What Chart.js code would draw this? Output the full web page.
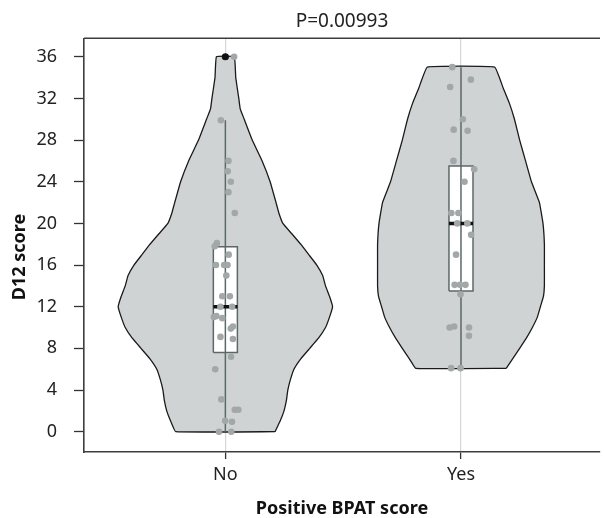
<!DOCTYPE html>
<html>
<head>
<meta charset="utf-8">
<script src="https://cdn.jsdelivr.net/npm/chart.js@4.4.1/dist/chart.umd.min.js"></script>
<style>
  html, body { margin: 0; padding: 0; background: #fff; }
  #wrap { width: 604px; height: 518px; }
</style>
</head>
<body>
<div id="wrap"><canvas id="chart"></canvas></div>
<script>
const categories = ['No', 'Yes'];
const yTicks = [0, 4, 8, 12, 16, 20, 24, 28, 32, 36];
const pLabel = 'P=0.00993';
const xTitle = 'Positive BPAT score';
const yTitle = 'D12 score';

// violin outlines: score level and half width (x units)
const noViolinY = [0, 1, 2, 3, 4, 5, 6, 7, 8, 9, 10, 11, 12, 13, 14, 15, 16, 17, 18, 19, 20, 21, 22, 24, 26, 28, 30, 31, 32, 34, 36];
const noViolinW = [0.211, 0.232, 0.249, 0.259, 0.265, 0.276, 0.291, 0.320, 0.358, 0.396, 0.425, 0.442, 0.455, 0.442, 0.425, 0.413, 0.388, 0.354, 0.320, 0.282, 0.244, 0.227, 0.215, 0.190, 0.156, 0.114, 0.080, 0.063, 0.057, 0.044, 0.038];
const yesViolinY = [6.08, 7, 8, 9, 10, 11, 12, 13, 14, 16, 18, 20, 22, 24, 26, 28, 30, 31.5, 33, 35];
const yesViolinW = [0.192, 0.219, 0.249, 0.278, 0.303, 0.324, 0.337, 0.350, 0.354, 0.354, 0.354, 0.348, 0.333, 0.299, 0.274, 0.249, 0.227, 0.206, 0.179, 0.143];

// box plots
const q1 = [7.6, 13.5];
const medians = [12, 20];
const q3 = [17.75, 25.5];
const whiskerLow = [0, 6.08];
const whiskerHigh = [29.9, 35];
const outliers = [[36], []];

// jittered observations
const noScores = [36, 29.9, 26, 25, 24, 23, 21, 18.1, 17.8, 17, 16, 16, 16, 15, 13, 13, 12, 12, 11, 11.1, 10.9, 9.9, 10.1, 9.1, 8.9, 7.2, 6, 3.1, 2.1, 2.1, 1.05, 0.96, 0, 0];
const noJitter = [0.037, -0.019, 0.013, 0.010, 0.023, 0.013, 0.040, -0.036, -0.045, 0.014, -0.040, -0.005, 0.009, 0.004, -0.013, 0.019, -0.021, 0.029, -0.049, -0.038, -0.013, 0.023, 0.032, -0.021, 0.032, 0.024, -0.043, -0.017, 0.040, 0.055, -0.001, 0.028, -0.027, 0.025];
const yesScores = [35, 33.8, 33.1, 30, 29, 28.9, 26, 25.2, 24, 21, 21, 20, 20, 18.9, 17, 14.1, 14.1, 14.1, 13.2, 10, 10.1, 10, 9.2, 6.1, 6.1];
const yesJitter = [-0.037, 0.042, -0.046, 0.008, -0.031, 0.028, -0.032, 0.056, 0.015, -0.041, -0.011, -0.016, 0.027, 0.043, -0.021, -0.027, -0.004, 0.019, -0.002, -0.048, -0.029, 0.034, 0.034, -0.042, -0.002];

const BOX_HW = 0.051;
const VIOLIN_FILL = '#d0d3d4';
const BOX_LINE = '#5c6868';
const DOT = '#a2a7a8';

Chart.defaults.font.family = '"Noto Sans", sans-serif';
Chart.defaults.color = '#222';

function violinPoints(center, ys, ws) {
  const right = ys.map((y, i) => ({ x: center + ws[i], y: y }));
  const left = ys.map((y, i) => ({ x: center - ws[i], y: y })).reverse();
  return right.concat(left, [right[0]]);
}

function boxPoints(i) {
  const c = i + 1;
  return [
    { x: c - BOX_HW, y: q1[i] }, { x: c + BOX_HW, y: q1[i] },
    { x: c + BOX_HW, y: q3[i] }, { x: c - BOX_HW, y: q3[i] },
    { x: c - BOX_HW, y: q1[i] }
  ];
}

const datasets = [];

[[noViolinY, noViolinW], [yesViolinY, yesViolinW]].forEach(([ys, ws], i) => {
  datasets.push({
    type: 'line',
    data: violinPoints(i + 1, ys, ws),
    borderColor: '#1a1a1a',
    borderWidth: 1.3,
    borderJoinStyle: 'round',
    backgroundColor: VIOLIN_FILL,
    fill: 'shape',
    tension: 0.08,
    pointRadius: 0,
    order: 6
  });
});

categories.forEach((c, i) => {
  datasets.push({
    type: 'line',
    data: boxPoints(i),
    borderColor: BOX_LINE,
    borderWidth: 1.5,
    backgroundColor: '#ffffff',
    fill: 'shape',
    tension: 0,
    pointRadius: 0,
    order: 5
  });
  datasets.push({
    type: 'line',
    data: [{ x: i + 1, y: whiskerLow[i] }, { x: i + 1, y: whiskerHigh[i] }],
    borderColor: BOX_LINE,
    borderWidth: 1.5,
    fill: false,
    pointRadius: 0,
    order: 4
  });
  datasets.push({
    type: 'line',
    data: [{ x: i + 1 - BOX_HW, y: medians[i] }, { x: i + 1 + BOX_HW, y: medians[i] }],
    borderColor: '#111',
    borderWidth: 3.5,
    fill: false,
    pointRadius: 0,
    order: 3
  });
  datasets.push({
    type: 'scatter',
    data: outliers[i].map(v => ({ x: i + 1, y: v })),
    backgroundColor: '#111',
    borderWidth: 0,
    pointRadius: 3.6,
    order: 1
  });
});

[[noScores, noJitter], [yesScores, yesJitter]].forEach(([vals, jit], i) => {
  datasets.push({
    type: 'scatter',
    data: vals.map((v, k) => ({ x: i + 1 + jit[k], y: v })),
    backgroundColor: DOT,
    borderWidth: 0,
    pointRadius: 3.3,
    order: 2
  });
});

const frame = {
  id: 'frame',
  afterDraw(chart) {
    const { ctx, chartArea } = chart;
    ctx.save();
    ctx.strokeStyle = '#3d3d3d';
    ctx.lineWidth = 1.6;
    ctx.beginPath();
    ctx.moveTo(chartArea.left, chartArea.top);
    ctx.lineTo(chartArea.right, chartArea.top);
    ctx.stroke();
    ctx.translate(20, 257);
    ctx.rotate(-Math.PI / 2);
    ctx.font = 'bold 18px "Noto Sans"';
    ctx.textAlign = 'center';
    ctx.textBaseline = 'middle';
    ctx.fillStyle = '#111';
    ctx.fillText(yTitle, 0, 0);
    ctx.restore();
  }
};

new Chart(document.getElementById('chart'), {
  type: 'line',
  data: { datasets: datasets },
  plugins: [frame],
  options: {
    responsive: true,
    maintainAspectRatio: false,
    animation: false,
    layout: { padding: 0 },
    plugins: {
      legend: { display: false },
      tooltip: { enabled: false },
      title: {
        display: true,
        text: pLabel,
        fullSize: false,
        color: '#222',
        font: { size: 19, weight: 'normal' },
        padding: { top: 10, bottom: 5.5 }
      }
    },
    scales: {
      x: {
        type: 'linear',
        min: 0.4,
        max: 2.59,
        afterBuildTicks: s => { s.ticks = categories.map((c, i) => ({ value: i + 1 })); },
        afterFit: s => { s.height = 66; },
        ticks: {
          callback: (v, i) => categories[i],
          font: { size: 18 },
          color: '#222',
          padding: 5,
          autoSkip: false,
          maxRotation: 0
        },
        grid: { color: '#d6d6d6', lineWidth: 1.2, tickColor: '#333', tickLength: 7, tickWidth: 1.3 },
        border: { color: '#3d3d3d', width: 1.6 },
        title: {
          display: true,
          text: xTitle,
          color: '#111',
          font: { size: 18, weight: 'bold', lineHeight: 1 },
          padding: { top: 0, bottom: 0 }
        }
      },
      y: {
        type: 'linear',
        min: -1.95,
        max: 37.77,
        afterBuildTicks: s => { s.ticks = yTicks.map(v => ({ value: v })); },
        afterFit: s => { s.width = 84; },
        ticks: { font: { size: 18 }, color: '#222', padding: 17 },
        grid: { drawOnChartArea: false, tickColor: '#333', tickLength: 10, tickWidth: 1.3 },
        border: { color: '#3d3d3d', width: 1.6 }
      }
    }
  }
});
</script>
</body>
</html>
